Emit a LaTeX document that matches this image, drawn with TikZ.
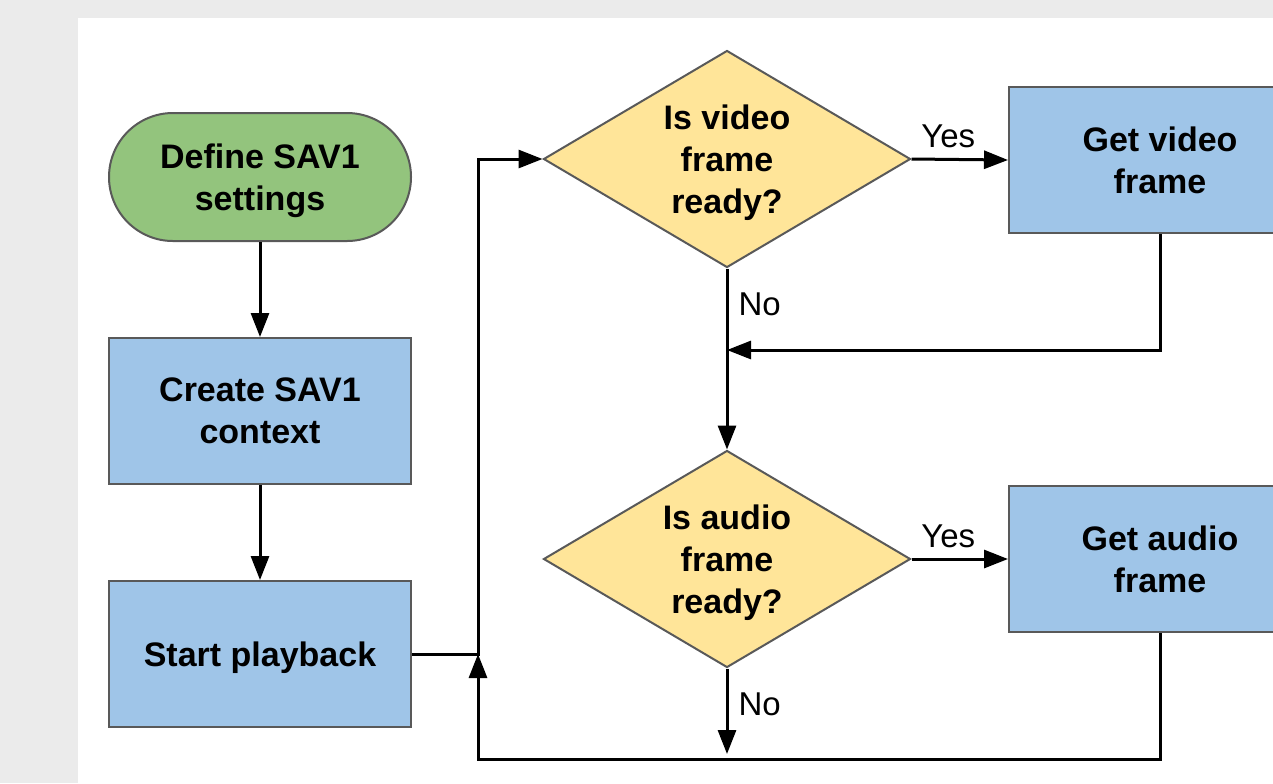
\documentclass[tikz,border=0pt]{standalone}
\usepackage{fontspec}
\setmainfont{Liberation Sans}
\usetikzlibrary{shapes.geometric,arrows.meta}
\definecolor{bgc}{HTML}{EBEBEB}
\definecolor{greenf}{HTML}{93C47D}
\definecolor{bluef}{HTML}{9FC5E8}
\definecolor{yellowf}{HTML}{FFE599}
\definecolor{edgec}{HTML}{595959}
\tikzset{
  base/.style={draw=edgec, line width=1pt, align=center, inner sep=2pt,
    font=\fontsize{17}{21}\selectfont\bfseries, text depth=-1.3pt},
  termbox/.style={base, fill=greenf, rectangle, rounded corners=32pt,
    minimum width=151pt, minimum height=64pt},
  procbox/.style={base, fill=bluef, rectangle, minimum width=151pt, minimum height=73pt},
  decbox/.style={base, fill=yellowf, diamond, aspect=1.69, inner sep=0pt,
    minimum width=183.5pt, minimum height=108.5pt},
  conn/.style={line width=1.5pt, -{Triangle[length=12pt,width=9pt]}},
  lbl/.style={font=\fontsize{16.5}{20}\selectfont, inner sep=5pt}
}
\begin{document}
\begin{tikzpicture}[x=0.5pt,y=-0.5pt]
\fill[bgc] (0,0) rectangle (1273,783);
\useasboundingbox (0,0) rectangle (1273,783);
\clip (0,0) rectangle (1273,783);
\fill[white] (78,18) rectangle (1280,790);

\node[termbox] (def) at (260,177) {Define SAV1\\settings};
\node[procbox] (create) at (260,411) {Create SAV1\\context};
\node[procbox] (start) at (260,654) {Start playback};
\node[decbox] (dv) at (727,159) {Is video\\frame\\ready?};
\node[decbox] (da) at (727,559) {Is audio\\frame\\ready?};
\node[procbox] (gv) at (1160,160) {Get video\\frame};
\node[procbox] (ga) at (1160,559) {Get audio\\frame};

\coordinate (j1) at (478,654);
\coordinate (j2) at (478,759);
\coordinate (m1) at (727,350);
\coordinate (e1) at (727,754);

\draw[conn] (def) -- (create);
\draw[conn] (create) -- (start);
\draw[conn] (start.east) -- (j1) |- (dv.west);
\draw[conn] (dv.east) -- node[lbl, above, pos=0.38] {Yes} (gv.west);
\draw[conn] (dv.south) -- node[lbl, right, pos=0.2] {No} (da.north);
\draw[conn] (gv.south) |- (m1);
\draw[conn] (da.east) -- node[lbl, above, pos=0.38] {Yes} (ga.west);
\draw[conn] (da.south) -- node[lbl, right, pos=0.42] {No} (e1);
\draw[conn] (ga.south) |- (j2) -- (j1);
\end{tikzpicture}
\end{document}
